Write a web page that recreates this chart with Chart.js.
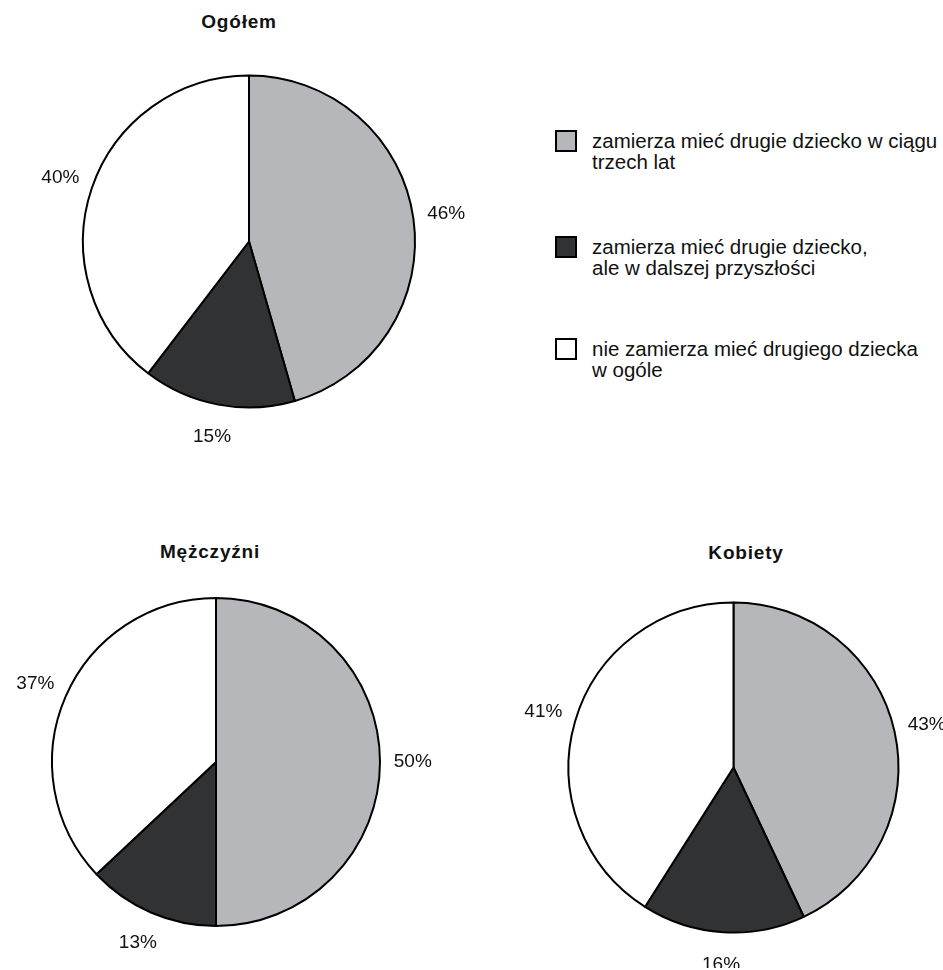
<!DOCTYPE html>
<html lang="pl">
<head>
  <meta charset="UTF-8" />
  <title>Drugie dziecko</title>
  <script src="https://cdn.jsdelivr.net/npm/chart.js"></script>
  <style>
    * { box-sizing: border-box; }
    body {
      margin: 0;
      background: #fff;
      font-family: 'Liberation Sans', Arial, sans-serif;
      color: #111;
      width: 943px;
      height: 970px;
      position: relative;
      overflow: hidden;
    }
    .box { position: absolute; }
    .title {
      position: absolute;
      font-weight: bold;
      font-size: 19px;
      letter-spacing: 0.8px;
      transform: translate(-50%, -50%);
      white-space: nowrap;
    }
    #legend { position: absolute; left: 555px; top: 130px; }
    .item { position: absolute; left: 0; width: 388px; }
    .swatch {
      position: absolute; left: 0; top: 0;
      width: 22px; height: 22px;
      border: 2px solid #000;
    }
    .label {
      position: absolute; left: 37px; top: 0px;
      font-size: 20.5px; line-height: 21px;
      white-space: nowrap;
    }
  </style>
</head>
<body>

  <div class="title" style="left:239px; top:22px;">Ogółem</div>
  <div class="title" style="left:210px; top:552px;">Mężczyźni</div>
  <div class="title" style="left:746px; top:553px;">Kobiety</div>

  <div class="box" style="left:0; top:0; width:498px; height:483px;"><canvas id="c0"></canvas></div>
  <div class="box" style="left:0; top:552px; width:432px; height:420px;"><canvas id="c1"></canvas></div>
  <div class="box" style="left:523px; top:567px; width:421px; height:401px;"><canvas id="c2"></canvas></div>

  <div id="legend"></div>

  <script>
    const categories = [
      'zamierza mieć drugie dziecko w ciągu\ntrzech lat',
      'zamierza mieć drugie dziecko,\nale w dalszej przyszłości',
      'nie zamierza mieć drugiego dziecka\nw ogóle'
    ];
    const groups = ['Ogółem', 'Mężczyźni', 'Kobiety'];
    const ogolem = [46, 15, 40];
    const mezczyzni = [50, 13, 37];
    const kobiety = [43, 16, 41];

    const colors = ['#b6b7ba', '#313234', '#ffffff'];

    // percent labels outside each slice
    const outsideLabels = {
      id: 'outsideLabels',
      afterDatasetsDraw(chart) {
        const ctx = chart.ctx;
        const meta = chart.getDatasetMeta(0);
        const values = chart.data.datasets[0].data;
        ctx.save();
        ctx.font = '19px "Liberation Sans", Arial, sans-serif';
        ctx.fillStyle = '#111';
        ctx.textAlign = 'center';
        ctx.textBaseline = 'middle';
        meta.data.forEach((arc, i) => {
          const p = arc.getProps(['x', 'y', 'startAngle', 'endAngle', 'outerRadius'], true);
          const a = (p.startAngle + p.endAngle) / 2;
          const r = p.outerRadius * 1.2;
          ctx.fillText(values[i] + '%', p.x + Math.cos(a) * r, p.y + Math.sin(a) * r);
        });
        ctx.restore();
      }
    };

    function makePie(id, values, radius) {
      return new Chart(document.getElementById(id), {
        type: 'pie',
        data: {
          labels: categories,
          datasets: [{
            data: values,
            backgroundColor: colors,
            borderColor: '#000',
            borderWidth: 2,
            hoverOffset: 0
          }]
        },
        options: {
          responsive: true,
          maintainAspectRatio: false,
          animation: false,
          radius: radius,
          plugins: {
            legend: { display: false },
            tooltip: { enabled: false }
          }
        },
        plugins: [outsideLabels]
      });
    }

    makePie('c0', ogolem, 166);
    makePie('c1', mezczyzni, 164);
    makePie('c2', kobiety, 165);

    // legend
    const legend = document.getElementById('legend');
    const legendTops = [0, 106, 208];
    categories.forEach((cat, i) => {
      const item = document.createElement('div');
      item.className = 'item';
      item.style.top = legendTops[i] + 'px';
      const sw = document.createElement('div');
      sw.className = 'swatch';
      sw.style.background = colors[i];
      const lb = document.createElement('div');
      lb.className = 'label';
      lb.innerHTML = cat.split('\n').join('<br>');
      item.appendChild(sw);
      item.appendChild(lb);
      legend.appendChild(item);
    });
  </script>

</body>
</html>
